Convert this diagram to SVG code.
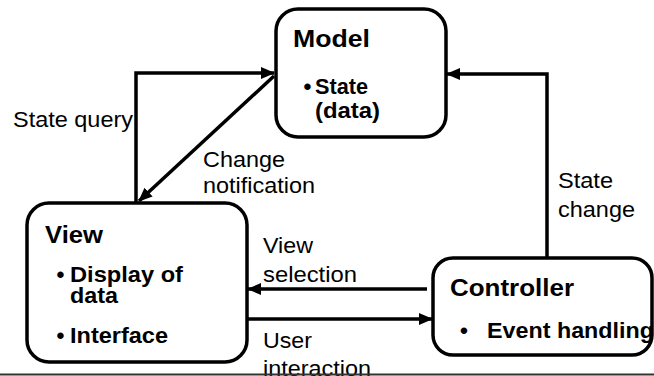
<svg xmlns="http://www.w3.org/2000/svg" width="654" height="376" viewBox="0 0 654 376">
<defs>
<marker id="ah" markerUnits="userSpaceOnUse" markerWidth="14" markerHeight="12" refX="13" refY="6" orient="auto">
<path d="M0,0 L14,6 L0,12 Z" fill="#000"/>
</marker>
<style>
.box{fill:#fff;stroke:#000;stroke-width:3.5}
.title{font-family:"Liberation Sans",Arial,sans-serif;font-weight:bold;font-size:24.5px;fill:#000}
.body{font-family:"Liberation Sans",Arial,sans-serif;font-weight:bold;font-size:22.5px;fill:#000}
.lbl{font-family:"Liberation Sans",Arial,sans-serif;font-size:21.5px;fill:#000}
.con{fill:none;stroke:#000;stroke-width:3.5;marker-end:url(#ah)}
</style>
</defs>
<rect width="654" height="376" fill="#fff"/>
<g id="connectors">
<path class="con" d="M136,203 V73 H274"/>
<path class="con" d="M274,76 L139,201"/>
<path class="con" d="M547,258 V74 H447"/>
<path class="con" d="M427,289 H248"/>
<path class="con" d="M248,319 H432"/>
<text class="lbl" x="13" y="127" textLength="120" lengthAdjust="spacingAndGlyphs">State query</text>
<text class="lbl" x="203" y="167" textLength="82" lengthAdjust="spacingAndGlyphs">Change</text>
<text class="lbl" x="203" y="193" textLength="112" lengthAdjust="spacingAndGlyphs">notification</text>
<text class="lbl" x="558" y="188" textLength="55" lengthAdjust="spacingAndGlyphs">State</text>
<text class="lbl" x="558" y="217" textLength="77" lengthAdjust="spacingAndGlyphs">change</text>
<text class="lbl" x="263" y="253" textLength="50" lengthAdjust="spacingAndGlyphs">View</text>
<text class="lbl" x="263" y="282" textLength="94" lengthAdjust="spacingAndGlyphs">selection</text>
<text class="lbl" x="263" y="348" textLength="49" lengthAdjust="spacingAndGlyphs">User</text>
<text class="lbl" x="263" y="376" textLength="108" lengthAdjust="spacingAndGlyphs">interaction</text>
</g>
<g id="model">
<rect class="box" x="276" y="9" width="170" height="128" rx="22"/>
<text class="title" x="293" y="47" textLength="77" lengthAdjust="spacingAndGlyphs">Model</text>
<text class="body" x="303.5" y="94">•</text>
<text class="body" x="315" y="94" textLength="53" lengthAdjust="spacingAndGlyphs">State</text>
<text class="body" x="315" y="118" textLength="65" lengthAdjust="spacingAndGlyphs">(data)</text>
</g>
<g id="view">
<rect class="box" x="27" y="203" width="220" height="159" rx="22"/>
<text class="title" x="45" y="243" textLength="58" lengthAdjust="spacingAndGlyphs">View</text>
<text class="body" x="56.5" y="282">•</text>
<text class="body" x="70" y="282" textLength="113" lengthAdjust="spacingAndGlyphs">Display of</text>
<text class="body" x="70" y="303" textLength="48" lengthAdjust="spacingAndGlyphs">data</text>
<text class="body" x="56.5" y="343">•</text>
<text class="body" x="70" y="343" textLength="98" lengthAdjust="spacingAndGlyphs">Interface</text>
</g>
<g id="controller">
<rect class="box" x="433" y="258" width="219" height="97" rx="20"/>
<text class="title" x="450" y="296" textLength="124" lengthAdjust="spacingAndGlyphs">Controller</text>
<text class="body" x="460" y="338">•</text>
<text class="body" x="487" y="338" textLength="167" lengthAdjust="spacingAndGlyphs">Event handling</text>
</g>
<line x1="0" y1="374.5" x2="654" y2="374.5" stroke="#333" stroke-width="2"/>
</svg>
